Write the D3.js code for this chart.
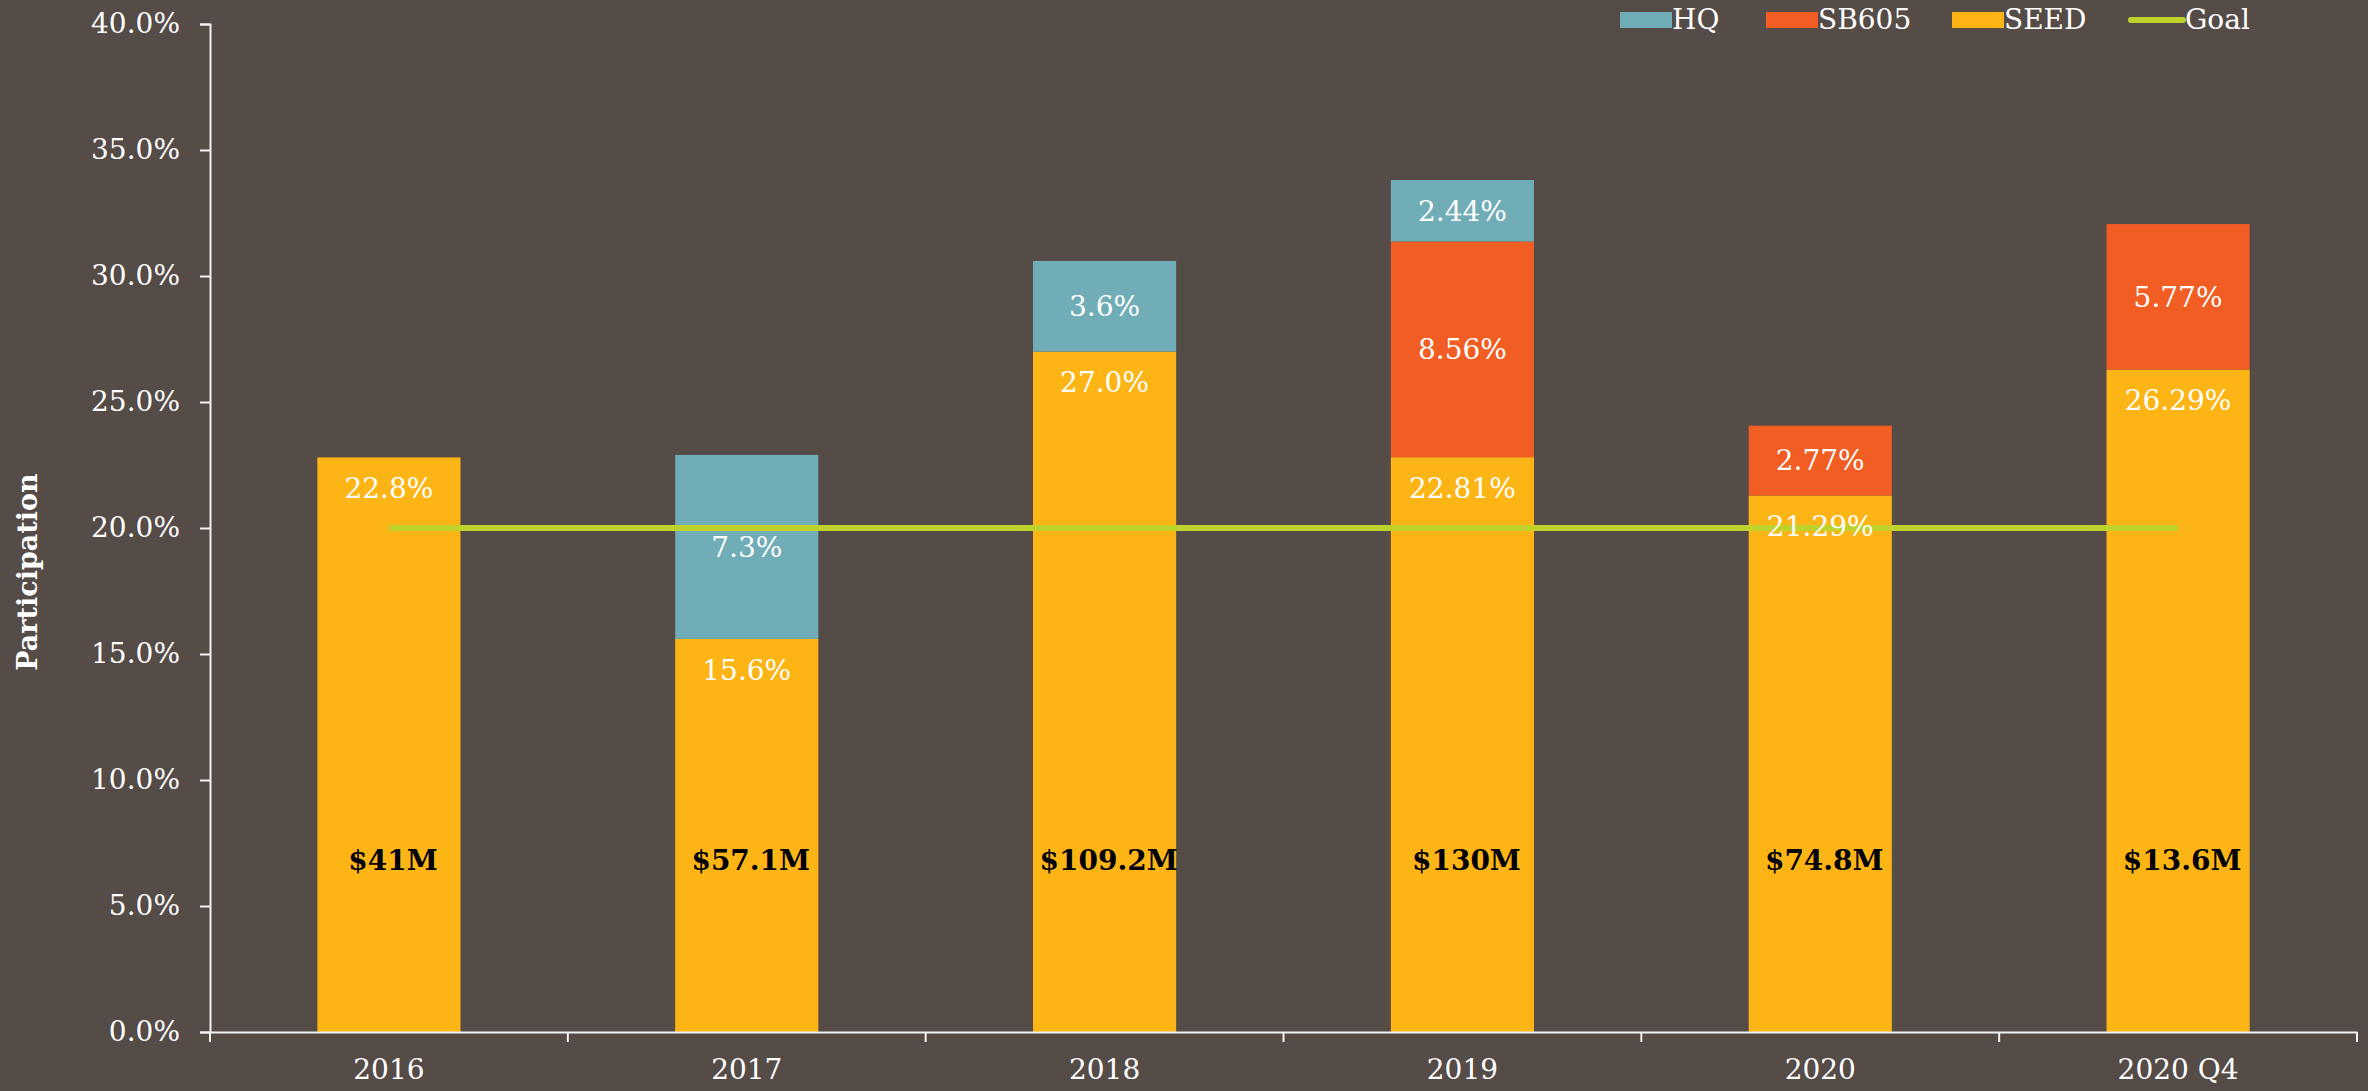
<!DOCTYPE html>
<html>
<head>
<meta charset="utf-8">
<script src="https://cdn.jsdelivr.net/npm/d3@7"></script>
<style>
  html, body { margin: 0; padding: 0; background: #554b47; }
  svg { display: block; }
  text { font-family: "DejaVu Serif", serif; fill: #ffffff; }
  .axis path, .axis line { stroke: #f2f2f2; stroke-width: 2; }
  .axis text { font-size: 28px; fill: #ffffff; font-family: "DejaVu Serif", serif; }
</style>
</head>
<body>
<div id="chart"></div>
<script>
"use strict";

// Data
// ----

var categories = ["2016", "2017", "2018", "2019", "2020", "2020 Q4"];
var seed  = [22.8, 15.6, 27.0, 22.81, 21.29, 26.29];
var sb605 = [0, 0, 0, 8.56, 2.77, 5.77];
var hq    = [0, 7.3, 3.6, 2.44, 0, 0];
var goal  = [20, 20, 20, 20, 20, 20];
var spend = ["$41M", "$57.1M", "$109.2M", "$130M", "$74.8M", "$13.6M"];
var seedLabels  = ["22.8%", "15.6%", "27.0%", "22.81%", "21.29%", "26.29%"];
var sb605Labels = ["", "", "", "8.56%", "2.77%", "5.77%"];
var hqLabels    = ["", "7.3%", "3.6%", "2.44%", "", ""];
var yTicks = [0, 5, 10, 15, 20, 25, 30, 35, 40];

var series = [
  {name: "SEED",  values: seed,  labels: seedLabels,  color: "#fdb515"},
  {name: "SB605", values: sb605, labels: sb605Labels, color: "#f15d22"},
  {name: "HQ",    values: hq,    labels: hqLabels,    color: "#70adb7"}
];


// Sizing
// ------

var W = 2368, H = 1091;
var m = {left: 210, right: 2357, top: 24, bottom: 1032};

var svg = d3.select("#chart").append("svg")
    .attr("width", W)
    .attr("height", H);

var x = d3.scaleBand().domain(categories).range([m.left, m.right]).padding(0);
var y = d3.scaleLinear().domain([0, 40]).range([m.bottom, m.top]);
var bw = x.bandwidth() * 0.4;


// Bars
// ----

var rows = categories.map(function(c, i) {
  var r = {cat: c};
  series.forEach(function(s) { r[s.name] = s.values[i]; });
  return r;
});

var stack = d3.stack().keys(series.map(function(s) { return s.name; }))(rows);

stack.forEach(function(layer, k) {
  var s = series[k];
  svg.append("g")
    .selectAll("rect")
    .data(layer)
    .join("rect")
      .attr("x", function(d) { return x(d.data.cat) + (x.bandwidth() - bw) / 2; })
      .attr("y", function(d) { return y(d[1]); })
      .attr("width", bw)
      .attr("height", function(d) { return y(d[0]) - y(d[1]); })
      .attr("fill", s.color);
});


// Goal line
// ---------

var line = d3.line()
    .x(function(d, i) { return x(categories[i]) + x.bandwidth() / 2; })
    .y(function(d) { return y(d); });

svg.append("path")
    .datum(goal)
    .attr("d", line)
    .attr("fill", "none")
    .attr("stroke", "#bfd22b")
    .attr("stroke-width", 6);


// Segment labels
// --------------

stack.forEach(function(layer, k) {
  var s = series[k];
  svg.append("g")
    .selectAll("text")
    .data(layer.filter(function(d, i) { return s.labels[i] !== ""; }))
    .join("text")
      .attr("x", function(d) { return x(d.data.cat) + x.bandwidth() / 2; })
      .attr("y", function(d) {
        // seed labels sit near the top, others in the middle
        return s.name == "SEED" ? y(d[1]) + 31 : (y(d[0]) + y(d[1])) / 2;
      })
      .attr("dy", "0.35em")
      .attr("text-anchor", "middle")
      .style("font-size", "28px")
      .text(function(d) { return s.labels[categories.indexOf(d.data.cat)]; });
});

svg.append("g")
  .selectAll("text")
  .data(spend)
  .join("text")
    .attr("x", function(d, i) { return x(categories[i]) + x.bandwidth() / 2 + 4; })
    .attr("y", y(6.8))
    .attr("dy", "0.35em")
    .attr("text-anchor", "middle")
    .style("font-size", "28px")
    .style("font-weight", "bold")
    .style("fill", "#000000")
    .text(function(d) { return d; });


// Axes
// ----

svg.append("g")
    .attr("class", "axis")
    .attr("transform", "translate(" + m.left + ",0)")
    .call(d3.axisLeft(y).tickValues(yTicks).tickSize(10).tickPadding(20)
      .tickFormat(function(d) { return d.toFixed(1) + "%"; }));

var xa = svg.append("g")
    .attr("class", "axis")
    .attr("transform", "translate(0," + m.bottom + ")")
    .call(d3.axisBottom(x).tickSize(0).tickPadding(27).tickSizeOuter(0));

xa.selectAll(".sep")
  .data(categories.concat([null]))
  .join("line")
    .attr("class", "sep")
    .attr("x1", function(d, i) { return m.left + i * x.step(); })
    .attr("x2", function(d, i) { return m.left + i * x.step(); })
    .attr("y1", 0)
    .attr("y2", 10);

svg.append("text")
    .attr("transform", "translate(37,572) rotate(-90)")
    .attr("text-anchor", "middle")
    .style("font-size", "27px")
    .style("font-weight", "bold")
    .text("Participation");


// Legend
// ------

var legend = [
  {name: "HQ",    color: "#70adb7", x: 1620},
  {name: "SB605", color: "#f15d22", x: 1766},
  {name: "SEED",  color: "#fdb515", x: 1952},
  {name: "Goal",  color: "#bfd22b", x: 2128, line: true}
];

var lg = svg.append("g").selectAll("g").data(legend).join("g")
    .attr("transform", function(d) { return "translate(" + d.x + ",0)"; });

lg.filter(function(d) { return !d.line; }).append("rect")
    .attr("x", 0).attr("y", 12)
    .attr("width", 52).attr("height", 16)
    .attr("fill", function(d) { return d.color; });

lg.filter(function(d) { return d.line; }).append("line")
    .attr("x1", 3).attr("x2", 55)
    .attr("y1", 20).attr("y2", 20)
    .attr("stroke", function(d) { return d.color; })
    .attr("stroke-width", 6)
    .attr("stroke-linecap", "round");

lg.append("text")
    .attr("x", function(d) { return d.line ? 57 : 52; })
    .attr("y", 29)
    .style("font-size", "28px")
    .text(function(d) { return d.name; });

</script>
</body>
</html>
